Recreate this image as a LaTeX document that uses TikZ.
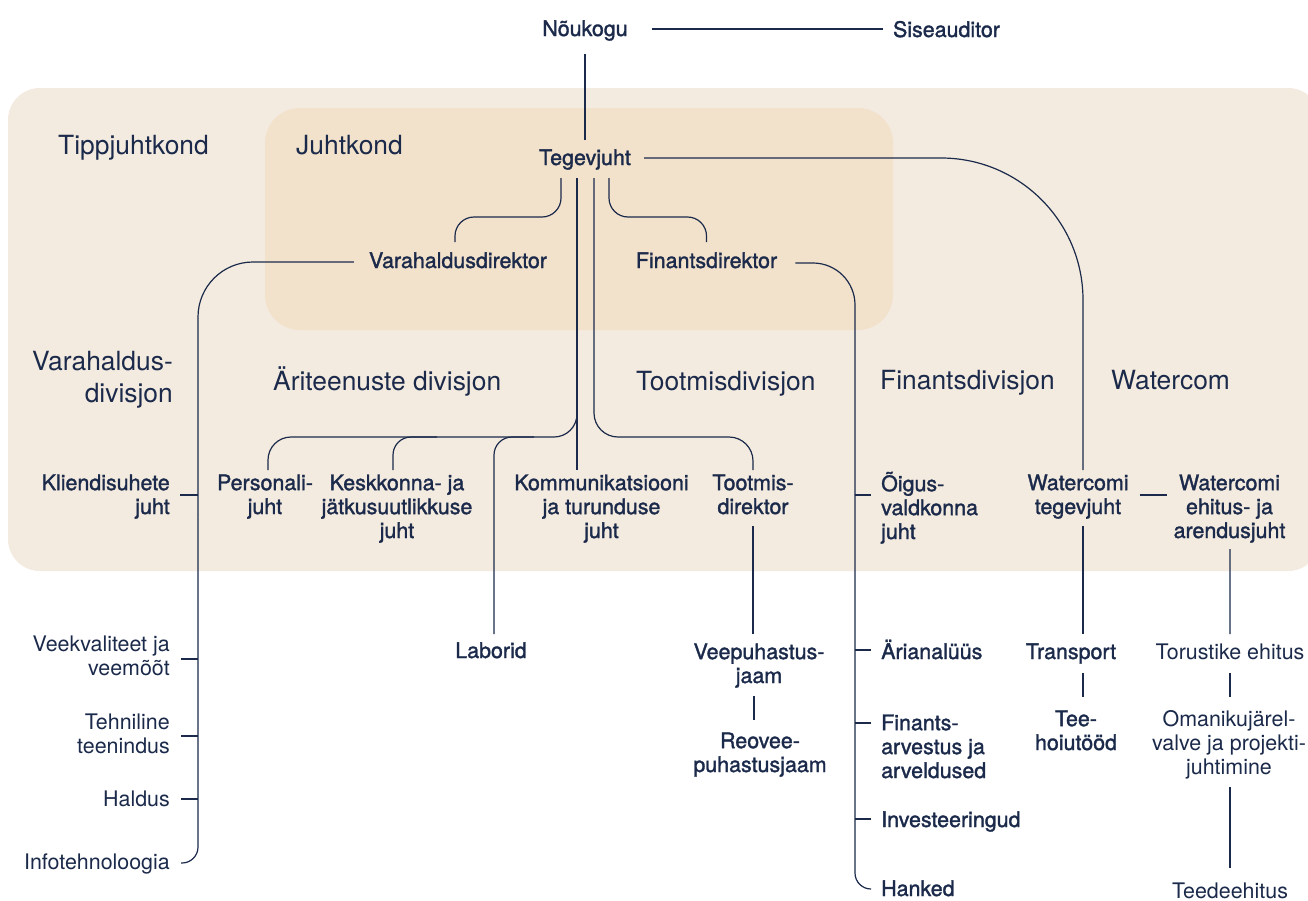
\documentclass[tikz,border=0pt]{standalone}
\usepackage{fontspec}
\setmainfont{TeX Gyre Heros}
\newfontfamily\medfont{TeX Gyre Heros}[FakeBold=1.5]
\usetikzlibrary{calc}
\definecolor{navy}{HTML}{1B2A4A}
\definecolor{bgout}{HTML}{F4EBE0}
\definecolor{bgin}{HTML}{F2E1CB}
\begin{document}
\begin{tikzpicture}[x=1bp,y=-1bp,
  lbl/.style={inner sep=0pt, anchor=base, text=navy, font=\fontsize{21.5}{24}\selectfont\medfont, align=center},
  lite/.style={lbl, font=\fontsize{21.5}{24}\selectfont},
  head/.style={inner sep=0pt, anchor=base west, text=navy, font=\fontsize{26.5}{32}\selectfont},
  conn/.style={draw=navy, line width=1.2bp},
]
\useasboundingbox (0,0) rectangle (1308,900);
\fill[white] (0,0) rectangle (1308,900);
\begin{scope}
\clip (0,0) rectangle (1308,900);
\fill[bgout, rounded corners=32bp] (8,88) rectangle (1320,571);
\end{scope}
\fill[bgin, rounded corners=35bp] (265,108) rectangle (893,330);

% top (multi-line nodes are placed at the baseline of their last line)
\node[lbl] (nou) at (585,36) {Nõukogu};
\node[lbl] (sis) at (946.5,37) {Siseauditor};
\node[lbl] (teg) at (585,165) {Tegevjuht};
\node[lbl] (vd) at (458,268) {Varahaldusdirektor};
\node[lbl] (fd) at (706.5,268) {Finantsdirektor};

% headings
\node[head] (tip) at (58,154) {Tippjuhtkond};
\node[head] (juh) at (296,154) {Juhtkond};
\node[head, anchor=base east, align=right] (vdiv) at (173,402) {Varahaldus-\\divisjon};
\node[head] (adiv) at (273,390) {Äriteenuste divisjon};
\node[head] (tdiv) at (636,390) {Tootmisdivisjon};
\node[head] (fdiv) at (880,389) {Finantsdivisjon};
\node[head] (wdiv) at (1111,389) {Watercom};

% second row
\node[lbl, anchor=base east, align=right] (kli) at (170,514) {Kliendisuhete\\juht};
\node[lbl] (per) at (265,514) {Personali-\\juht};
\node[lbl] (kes) at (397,538) {Keskkonna- ja\\jätkusuutlikkuse\\juht};
\node[lbl] (kom) at (601.5,538) {Kommunikatsiooni\\ja turunduse\\juht};
\node[lbl] (too) at (753,514) {Tootmis-\\direktor};
\node[lbl, anchor=base west, align=left] (oig) at (881,539) {Õigus-\\valdkonna\\juht};
\node[lbl] (wtj) at (1078,514) {Watercomi\\tegevjuht};
\node[lbl] (wej) at (1229.5,538) {Watercomi\\ehitus- ja\\arendusjuht};

% third row
\node[lite, anchor=base east, align=right] (vee) at (170,675) {Veekvaliteet ja\\veemõõt};
\node[lite, anchor=base east, align=right] (teh) at (170,753) {Tehniline\\teenindus};
\node[lite, anchor=base east] (hal) at (170,806) {Haldus};
\node[lite, anchor=base east] (inf) at (170,869) {Infotehnoloogia};
\node[lbl] (lab) at (491,658) {Laborid};
\node[lbl] (vpj) at (759,683) {Veepuhastus-\\jaam};
\node[lbl] (rpj) at (760,772) {Reovee-\\puhastusjaam};
\node[lbl, anchor=base west] (ari) at (881,659) {Ärianalüüs};
\node[lbl, anchor=base west, align=left] (fin) at (881,778) {Finants-\\arvestus ja\\arveldused};
\node[lbl, anchor=base west] (inv) at (881,827) {Investeeringud};
\node[lbl, anchor=base west] (han) at (881,896) {Hanked};
\node[lbl] (tra) at (1071,659) {Transport};
\node[lbl] (tee) at (1076,750) {Tee-\\hoiutööd};
\node[lite] (tor) at (1230,659) {Torustike ehitus};
\node[lite] (oma) at (1229,774) {Omanikujärel-\\valve ja projekti-\\juhtimine};
\node[lite] (ted) at (1230,898) {Teedeehitus};

% connectors: top
\draw[conn] ($(nou.base east)+(24,-7)$) -- ($(sis.base west)+(-10,-8)$);
\draw[conn] ($(nou.base)+(0,18)$) -- ($(teg.base)+(0,-25)$);
\draw[conn, rounded corners=19bp] ($(teg.base)+(-24,13)$) |- ($(vd.base)+(-3,-51)$) -- ($(vd.base)+(-3,-26)$);
\draw[conn, rounded corners=19bp] ($(teg.base)+(24,13)$) |- ($(fd.base)+(0,-51)$) -- ($(fd.base)+(0,-26)$);
\draw[conn] ($(teg.base)+(-8,13)$) -- ($(kom.base)+(-24.5,-68)$);
\draw[conn, rounded corners=23bp] ($(teg.base)+(-8,13)$) |- ($(per.base)+(3,-77)$) -- ($(per.base)+(3,-44)$);
\draw[conn, rounded corners=18bp] ($(kes.base)+(40,-101)$) -| ($(kes.base)+(-4,-68)$);
\draw[conn, rounded corners=18bp] ($(lab.base)+(43,-221)$) -| ($(lab.base)+(3,-24)$);
\draw[conn, rounded corners=24bp] ($(teg.base)+(9,13)$) |- ($(too.base)+(0,-77)$) -- ($(too.base)+(0,-44)$);
\draw[conn, rounded corners=142bp] ($(teg.base east)+(13,-7)$) -| ($(wtj.base)+(5,-44)$);

% Varahaldus chain
\draw[conn, rounded corners=55bp] ($(vd.base west)+(-15,-6)$) -| ($(kli.base east)+(28,0)$);
\draw[conn, rounded corners=16bp] ($(kli.base east)+(28,0)$) |- ($(inf.base east)+(11,-6)$);
\draw[conn] ($(kli.base east)+(10,-19)$) -- ($(kli.base east)+(28,-19)$);
\draw[conn] ($(vee.base east)+(11,-16)$) -- ($(vee.base east)+(28,-16)$);
\draw[conn] ($(teh.base east)+(11,-17)$) -- ($(teh.base east)+(28,-17)$);
\draw[conn] ($(hal.base east)+(11,-7)$) -- ($(hal.base east)+(28,-7)$);

% Finants chain
\draw[conn, rounded corners=42bp] ($(fd.base east)+(18,-5)$) -| ($(oig.base west)+(-26,-44)$);
\draw[conn, rounded corners=16bp] ($(oig.base west)+(-26,-44)$) |- ($(han.base west)+(-10,-7)$);
\draw[conn] ($(oig.base west)+(-26,-44)$) -- ($(oig.base west)+(-10,-44)$);
\draw[conn] ($(ari.base west)+(-26,-9)$) -- ($(ari.base west)+(-10,-9)$);
\draw[conn] ($(fin.base west)+(-26,-55)$) -- ($(fin.base west)+(-10,-55)$);
\draw[conn] ($(inv.base west)+(-26,-8)$) -- ($(inv.base west)+(-10,-8)$);

% Tootmis chain
\draw[conn] ($(too.base)+(0,12)$) -- ($(vpj.base)+(-6,-49)$);
\draw[conn] ($(vpj.base)+(-5,13)$) -- ($(rpj.base)+(-6,-52)$);

% Watercom chain
\draw[conn] ($(wtj.base east)+(11,-19)$) -- ($(wej.base west)+(-6,-43)$);
\draw[conn] ($(wtj.base)+(5,12)$) -- ($(tra.base)+(12,-25)$);
\draw[conn] ($(tra.base)+(12,14)$) -- ($(tee.base)+(7,-53)$);
\draw[conn] ($(wej.base)+(0.5,11)$) -- ($(tor.base)+(0,-25)$);
\draw[conn] ($(tor.base)+(0,14)$) -- ($(oma.base)+(1,-77)$);
\draw[conn] ($(oma.base)+(1,13)$) -- ($(ted.base)+(0,-30)$);
\end{tikzpicture}
\end{document}
